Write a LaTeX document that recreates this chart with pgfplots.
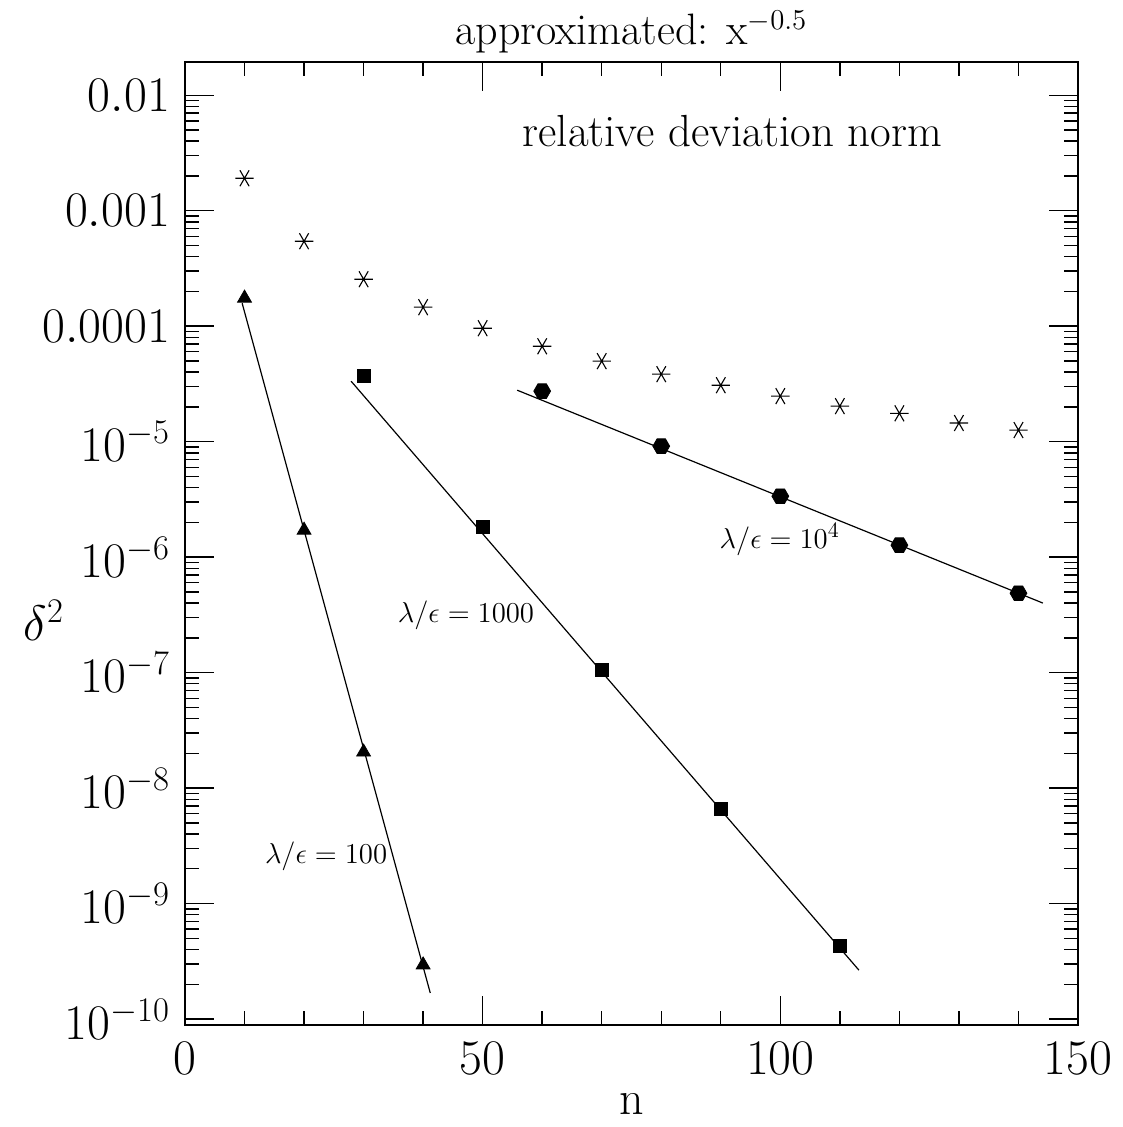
\documentclass[border=0pt]{standalone}
\usepackage{pgfplots}
\pgfplotsset{compat=1.18}
\usetikzlibrary{plotmarks}
\pgfdeclareplotmark{hexagon*}{%
  \pgfpathmoveto{\pgfqpointpolar{0}{\pgfplotmarksize}}%
  \pgfpathlineto{\pgfqpointpolar{60}{\pgfplotmarksize}}%
  \pgfpathlineto{\pgfqpointpolar{120}{\pgfplotmarksize}}%
  \pgfpathlineto{\pgfqpointpolar{180}{\pgfplotmarksize}}%
  \pgfpathlineto{\pgfqpointpolar{240}{\pgfplotmarksize}}%
  \pgfpathlineto{\pgfqpointpolar{300}{\pgfplotmarksize}}%
  \pgfpathclose
  \pgfusepathqfillstroke}
\begin{document}
\begin{tikzpicture}
\begin{axis}[
  name=ax,
  scale only axis,
  width=446.5pt, height=481.5pt,
  xmin=0, xmax=150,
  ymode=log,
  ymin=8.87e-11, ymax=0.0194,
  axis line style={line width=1pt},
  every tick/.style={line width=0.7pt, black},
  tick align=inside,
  xtick pos=both, ytick pos=both,
  xtick={0,50,100,150},
  minor x tick num=4,
  ytick={1e-10,1e-9,1e-8,1e-7,1e-6,1e-5,1e-4,1e-3,1e-2},
  yticklabels={$10^{-10}$,$10^{-9}$,$10^{-8}$,$10^{-7}$,$10^{-6}$,$10^{-5}$,$0.0001$,$0.001$,$0.01$},
  major tick length=14.5pt,
  minor tick length=7.2pt,
  tick label style={font=\fontsize{23.5}{28}\selectfont},
  xticklabel style={yshift=-5pt},
  yticklabel style={xshift=-4pt},
  clip=false,
]
\addplot[only marks, mark=asterisk, mark size=4.6pt, mark options={rotate=90, line width=0.55pt}] coordinates {
(10,1.91e-3) (20,5.44e-4) (30,2.55e-4) (40,1.46e-4) (50,9.6e-5) (60,6.7e-5) (70,4.98e-5)
(80,3.84e-5) (90,3.08e-5) (100,2.48e-5) (110,2.03e-5) (120,1.76e-5) (130,1.45e-5) (140,1.26e-5)};
% lambda/eps = 100
\addplot[only marks, mark=triangle*, mark size=4pt] coordinates {
(10,1.75e-4) (20,1.71e-6) (30,2.05e-8) (40,2.94e-10)};
\addplot[no marks, line width=0.6pt] coordinates {(9.6,1.58e-4) (41.2,1.68e-10)};
% lambda/eps = 1000
\addplot[only marks, mark=square*, mark size=3.3pt] coordinates {
(30,3.69e-5) (50,1.82e-6) (70,1.05e-7) (90,6.58e-9) (110,4.28e-10)};
\addplot[no marks, line width=0.6pt] coordinates {(27.9,3.34e-5) (113.2,2.65e-10)};
% lambda/eps = 1e4
\addplot[only marks, mark=hexagon*, mark size=4.2pt] coordinates {
(60,2.74e-5) (80,9.14e-6) (100,3.37e-6) (120,1.27e-6) (140,4.87e-7)};
\addplot[no marks, line width=0.6pt] coordinates {(55.8,2.79e-5) (144.1,4.0e-7)};
\node[font=\fontsize{22.5}{26}\selectfont] at (axis description cs:0.613,0.928) {relative deviation norm};
\node[font=\fontsize{15}{18}\selectfont] at (axis cs:99.9,1.42e-6) {$\lambda/\epsilon=10^4$};
\node[font=\fontsize{15}{18}\selectfont] at (axis cs:47.2,3.15e-7) {$\lambda/\epsilon=1000$};
\node[font=\fontsize{15}{18}\selectfont] at (axis cs:23.7,2.57e-9) {$\lambda/\epsilon=100$};
\node[font=\fontsize{22}{26}\selectfont, anchor=base] at (axis description cs:0.5,1.018) {approximated: x$^{-0.5}$};
\node[font=\fontsize{24}{28}\selectfont] at (axis description cs:-0.158,0.42) {$\delta^2$};
\node[font=\fontsize{24}{28}\selectfont, anchor=base] at (axis description cs:0.5,-0.093) {n};
\end{axis}
\pgfresetboundingbox
\useasboundingbox ([shift={(-92.5pt,-51pt)}]ax.south west) rectangle ([shift={(22.5pt,31pt)}]ax.north east);
\end{tikzpicture}
\end{document}
